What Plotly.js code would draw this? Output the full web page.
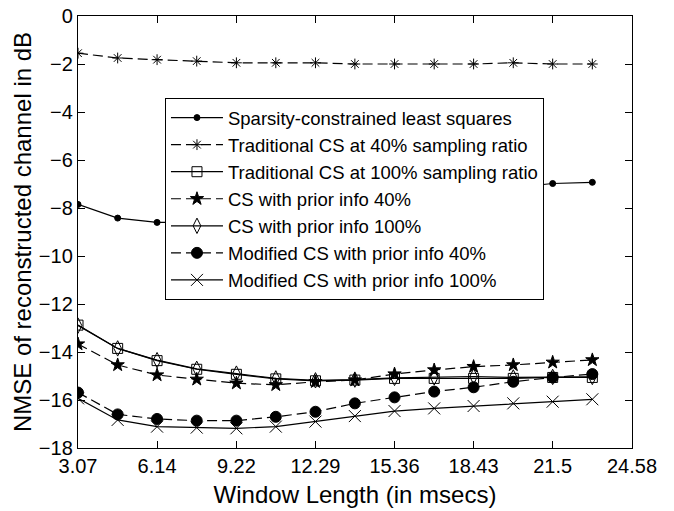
<!DOCTYPE html>
<html>
<head>
<meta charset="utf-8">
<script src="https://cdn.plot.ly/plotly-3.0.1.min.js"></script>
<style>
  html, body { margin: 0; padding: 0; background: #ffffff; }
  #chart { width: 674px; height: 511px; }
</style>
</head>
<body>
<div id="chart"></div>
<script>
// Window lengths in msecs (multiples of 1.536 ms)
const windowLength = [3.07, 4.61, 6.14, 7.68, 9.22, 10.75, 12.29, 13.82, 15.36, 16.9, 18.43, 19.97, 21.5, 23.04];

// NMSE in dB for each reconstruction method
const sparsityLS   = [-7.85, -8.42, -8.6, -8.6, -8.5, -8.3, -8.1, -7.9, -7.7, -7.5, -7.3, -7.15, -6.98, -6.93];
const tradCS40     = [-1.55, -1.75, -1.82, -1.88, -1.95, -1.95, -1.95, -2.0, -2.0, -2.0, -2.0, -1.95, -2.0, -2.0];
const tradCS100    = [-12.88, -13.85, -14.36, -14.72, -14.93, -15.12, -15.2, -15.17, -15.1, -15.1, -15.1, -15.1, -15.06, -15.06];
const priorCS40    = [-13.67, -14.54, -14.96, -15.14, -15.3, -15.37, -15.24, -15.17, -14.92, -14.75, -14.61, -14.54, -14.43, -14.33];
const priorCS100   = [-12.9, -13.85, -14.34, -14.7, -14.9, -15.1, -15.18, -15.15, -15.08, -15.06, -15.02, -15.06, -15.04, -15.04];
const modCS40      = [-15.69, -16.6, -16.79, -16.86, -16.86, -16.7, -16.49, -16.14, -15.89, -15.65, -15.47, -15.24, -15.06, -14.92];
const modCS100     = [-15.93, -16.83, -17.11, -17.15, -17.18, -17.11, -16.9, -16.67, -16.46, -16.35, -16.25, -16.14, -16.07, -15.97];

const seriesNames = [
  'Sparsity-constrained least squares',
  'Traditional CS at 40% sampling ratio',
  'Traditional CS at 100% sampling ratio',
  'CS with prior info 40%',
  'CS with prior info 100%',
  'Modified CS with prior info 40%',
  'Modified CS with prior info 100%'
];

const xTickVals = [3.07, 6.14, 9.22, 12.29, 15.36, 18.43, 21.5, 24.58];
const xTickText = ['3.07', '6.14', '9.22', '12.29', '15.36', '18.43', '21.5', '24.58'];

const FONT = 'Liberation Sans, Arial, Helvetica, sans-serif';
const DASH = '10px,5px';

function series(y, name, dash, symbol, size, idx) {
  return {
    x: windowLength,
    y: y,
    name: name,
    type: 'scatter',
    mode: 'lines+markers',
    legendgroup: 'g' + idx,
    line: { color: '#000000', width: 1.2, dash: dash },
    marker: {
      symbol: symbol,
      size: size,
      color: '#000000',
      line: { color: '#000000', width: 1 }
    }
  };
}

const traces = [
  series(sparsityLS, seriesNames[0], 'solid', 'circle', 6, 0),
  series(tradCS40,   seriesNames[1], DASH, 'asterisk-open', 9, 1),
  series(tradCS100,  seriesNames[2], 'solid', 'square-open', 10, 2),
  series(priorCS40,  seriesNames[3], DASH, 'star', 10, 3),
  series(priorCS100, seriesNames[4], 'solid', 'diamond-tall-open', 11, 4),
  series(modCS40,    seriesNames[5], DASH, 'circle', 11, 5),
  series(modCS100,   seriesNames[6], 'solid', 'x-thin-open', 12, 6)
];

const layout = {
  width: 674,
  height: 511,
  margin: { l: 78, r: 42, t: 16, b: 63 },
  paper_bgcolor: '#ffffff',
  plot_bgcolor: '#ffffff',
  font: { family: FONT, color: '#000000', size: 20 },
  showlegend: true,
  legend: {
    x: 0.157, y: 0.81,
    xanchor: 'left', yanchor: 'top',
    bgcolor: '#ffffff',
    bordercolor: '#000000',
    borderwidth: 1,
    tracegroupgap: 0,
    itemwidth: 52,
    font: { family: FONT, size: 18.5, color: '#000000' }
  },
  xaxis: {
    range: [3.07, 24.58],
    tickmode: 'array',
    tickvals: xTickVals,
    ticktext: xTickText,
    ticks: 'inside',
    ticklen: 7,
    tickcolor: '#000000',
    showline: true,
    linecolor: '#000000',
    linewidth: 1.2,
    mirror: 'ticks',
    showgrid: false,
    zeroline: false,
    tickfont: { family: FONT, size: 20 },
    title: { text: 'Window Length (in msecs)', font: { family: FONT, size: 24 }, standoff: 10 }
  },
  yaxis: {
    range: [-18, 0],
    dtick: 2,
    ticks: 'inside',
    ticklen: 7,
    tickcolor: '#000000',
    showline: true,
    linecolor: '#000000',
    linewidth: 1.2,
    mirror: 'ticks',
    showgrid: false,
    zeroline: false,
    tickfont: { family: FONT, size: 20 },
    title: { text: 'NMSE of reconstructed channel in dB', font: { family: FONT, size: 24 }, standoff: 0 }
  }
};

Plotly.newPlot('chart', traces, layout, { displayModeBar: false, staticPlot: true });
</script>
</body>
</html>
